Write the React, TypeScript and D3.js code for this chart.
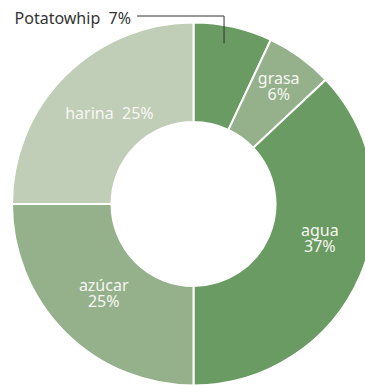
import React from "react";
import * as d3 from "d3";

const categories = ["Potatowhip", "grasa", "agua", "azúcar", "harina"];
const values = [7, 6, 37, 25, 25];
const colors = ["#699b63", "#94b18b", "#699b63", "#94b18b", "#c0cdb7"];
// label placement: radius and pixel nudges, and layout mode
const labelRadius = [140, 145, 130, 127, 126];
const labelNudgeX = [0, 0, 7, 0, 5];
const labelNudgeY = [0, 0, -17, 0, -1];
const labelMode = ["outside", "stack", "stack", "stack", "inline"];

const W = 365;
const H = 385;
const cx = 193.5;
const cy = 204;
const outerR = 181.5;
const innerR = 82;

export default function App() {
  const pie = d3
    .pie<number>()
    .sort(null)
    .value((d) => d);
  const arcs = pie(values);
  const arc = d3.arc<d3.PieArcDatum<number>>().innerRadius(innerR).outerRadius(outerR);
  const font = "'Noto Sans', sans-serif";
  const fs = 16;

  return (
    <svg
      width={W}
      height={H}
      style={{ position: "absolute", left: 0, top: 0 }}
      fontFamily={font}
    >
      <g transform={`translate(${cx},${cy})`}>
        {arcs.map((a, i) => (
          <path key={i} d={arc(a) || ""} fill={colors[i]} stroke="#fff" strokeWidth={2} />
        ))}
        {arcs.map((a, i) => {
          const mid = (a.startAngle + a.endAngle) / 2;
          const r = labelRadius[i];
          const x = r * Math.sin(mid) + labelNudgeX[i];
          const y = -r * Math.cos(mid) + labelNudgeY[i];
          const pct = `${values[i]}%`;
          if (labelMode[i] === "outside") {
            const topY = -cy + 16;
            return (
              <g key={i}>
                <polyline
                  points={`${x},${y - 24} ${x},${topY} ${-cx + 137},${topY}`}
                  fill="none"
                  stroke="#333"
                  strokeWidth={1}
                />
                <text
                  x={-cx + 131}
                  y={topY + 8}
                  textAnchor="end"
                  fontSize={fs}
                  fill="#333"
                  xmlSpace="preserve"
                >
                  {`${categories[i]}  ${pct}`}
                </text>
              </g>
            );
          }
          if (labelMode[i] === "inline") {
            return (
              <text
                key={i}
                x={x}
                y={y + 5.5}
                textAnchor="middle"
                fontSize={fs}
                fill="#f7f7f2"
                xmlSpace="preserve"
              >
                {`${categories[i]}  ${pct}`}
              </text>
            );
          }
          return (
            <text key={i} textAnchor="middle" fontSize={fs} fill="#f7f7f2">
              <tspan x={x} y={y - 3}>
                {categories[i]}
              </tspan>
              <tspan x={x} y={y + 13}>
                {pct}
              </tspan>
            </text>
          );
        })}
      </g>
    </svg>
  );
}
